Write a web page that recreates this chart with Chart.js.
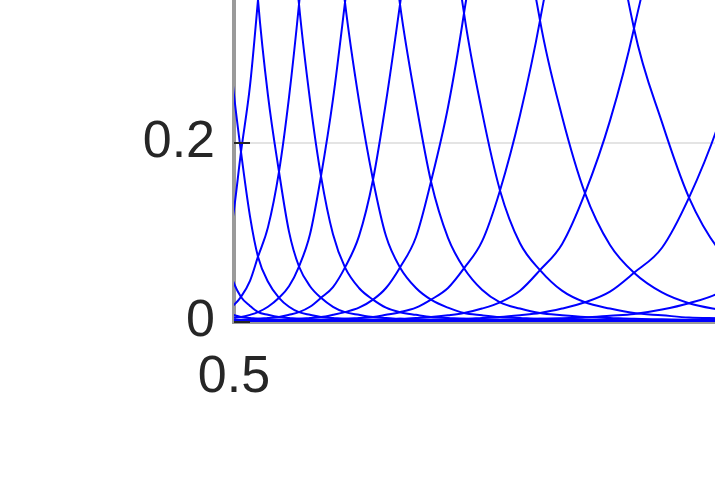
<!DOCTYPE html>
<html>
<head>
<meta charset="utf-8">
<script src="https://cdn.jsdelivr.net/npm/chart.js@4/dist/chart.umd.min.js"></script>
<style>
  html, body { margin: 0; padding: 0; background: #fff; width: 715px; height: 479px; overflow: hidden; }
  #wrap { position: relative; width: 715px; height: 479px; overflow: hidden; }
  #myChart { position: absolute; left: 0; top: -573px; }
</style>
</head>
<body>
<div id="wrap"><canvas id="myChart" width="954" height="1052"></canvas></div>
<script>
// x positions shared by all curves: peak centres, crossings, and readings half way between
const xPos = [0.420, 0.425, 0.430, 0.435, 0.440, 0.446, 0.451, 0.457, 0.463, 0.470, 0.477, 0.484, 0.491, 0.499,
              0.507, 0.516, 0.524, 0.534, 0.545, 0.555, 0.565, 0.576, 0.587, 0.599, 0.611, 0.625, 0.639, 0.652,
              0.666, 0.682, 0.697, 0.714, 0.730, 0.748, 0.766, 0.786, 0.806, 0.828, 0.851, 0.876, 0.900, 0.928,
              0.955, 0.984, 1.012, 1.044, 1.077, 1.111, 1.145, 1.184, 1.222, 1.262, 1.303]

// one array per curve (the peaks are above the visible area)
const curve1 = [0.36, 0.49, 0.8, 0.49, 0.36, 0.269, 0.2, 0.124, 0.075, 0.047, 0.028, 0.018, 0.011, 0.008,
                0.0055, 0.0045, 0.0035, 0.003, 0.0025, 0.0022, 0.002, 0.0018, 0.0017, 0.0016, 0.0015, 0.0015, 0.0015, 0.0015,
                0.0015, 0.0013, 0.0012, 0.0012, 0.0012, 0.0012, 0.0012, 0.0012, 0.0012, 0.0011, 0.001, 0.001, 0.001, 0.001,
                0.001, 0.001, 0.001, 0.001, 0.001, 0.001, 0.001, 0.001, 0.001, 0.001, 0.001]
const curve2 = [0.075, 0.124, 0.2, 0.269, 0.36, 0.49, 0.8, 0.49, 0.36, 0.264, 0.19, 0.118, 0.074, 0.046,
                0.028, 0.018, 0.011, 0.008, 0.0055, 0.0045, 0.0035, 0.003, 0.0025, 0.0022, 0.002, 0.0018, 0.0017, 0.0016,
                0.0015, 0.0015, 0.0015, 0.0015, 0.0015, 0.0013, 0.0012, 0.0012, 0.0012, 0.0012, 0.0012, 0.0012, 0.0012, 0.0011,
                0.001, 0.001, 0.001, 0.001, 0.001, 0.001, 0.001, 0.001, 0.001, 0.001, 0.001]
const curve3 = [0.011, 0.018, 0.028, 0.047, 0.075, 0.124, 0.2, 0.269, 0.36, 0.49, 0.8, 0.49, 0.36, 0.264,
                0.19, 0.118, 0.073, 0.045, 0.027, 0.017, 0.011, 0.008, 0.0055, 0.0045, 0.0035, 0.003, 0.0025, 0.0022,
                0.002, 0.0018, 0.0017, 0.0016, 0.0015, 0.0015, 0.0015, 0.0015, 0.0015, 0.0013, 0.0012, 0.0012, 0.0012, 0.0012,
                0.0012, 0.0012, 0.0012, 0.0011, 0.001, 0.001, 0.001, 0.001, 0.001, 0.001, 0.001]
const curve4 = [0.0035, 0.0045, 0.0055, 0.008, 0.011, 0.018, 0.028, 0.047, 0.075, 0.119, 0.19, 0.264, 0.36, 0.49,
                0.8, 0.49, 0.36, 0.253, 0.168, 0.101, 0.062, 0.04, 0.027, 0.017, 0.011, 0.008, 0.0055, 0.0045,
                0.0035, 0.003, 0.0025, 0.0022, 0.002, 0.0018, 0.0017, 0.0016, 0.0015, 0.0015, 0.0015, 0.0015, 0.0015, 0.0013,
                0.0012, 0.0012, 0.0012, 0.0012, 0.0012, 0.0012, 0.0012, 0.0011, 0.001, 0.001, 0.001]
const curve5 = [0.002, 0.0022, 0.0025, 0.003, 0.0035, 0.0045, 0.0055, 0.008, 0.011, 0.018, 0.028, 0.046, 0.074, 0.118,
                0.19, 0.264, 0.36, 0.49, 0.8, 0.49, 0.355, 0.248, 0.163, 0.098, 0.061, 0.038, 0.025, 0.016,
                0.011, 0.008, 0.0055, 0.0045, 0.0035, 0.003, 0.0025, 0.0022, 0.002, 0.0018, 0.0017, 0.0016, 0.0015, 0.0015,
                0.0015, 0.0015, 0.0015, 0.0013, 0.0012, 0.0012, 0.0012, 0.0012, 0.0012, 0.0012, 0.0012]
const curve6 = [0.0015, 0.0016, 0.0017, 0.0018, 0.002, 0.0022, 0.0025, 0.003, 0.0035, 0.0045, 0.0055, 0.008, 0.011, 0.018,
                0.028, 0.046, 0.073, 0.106, 0.168, 0.251, 0.355, 0.49, 0.8, 0.49, 0.357, 0.247, 0.159, 0.096,
                0.061, 0.038, 0.025, 0.016, 0.01, 0.0075, 0.0055, 0.0045, 0.0035, 0.003, 0.0025, 0.0022, 0.002, 0.0018,
                0.0017, 0.0016, 0.0015, 0.0015, 0.0015, 0.0015, 0.0015, 0.0013, 0.0012, 0.0012, 0.0012]
const curve7 = [0.0015, 0.0015, 0.0015, 0.0015, 0.0015, 0.0016, 0.0017, 0.0018, 0.002, 0.0022, 0.0025, 0.003, 0.0035, 0.0045,
                0.0055, 0.008, 0.011, 0.017, 0.027, 0.04, 0.062, 0.098, 0.163, 0.249, 0.357, 0.49, 0.8, 0.49,
                0.355, 0.245, 0.157, 0.094, 0.06, 0.036, 0.022, 0.015, 0.01, 0.0075, 0.0055, 0.0045, 0.0035, 0.003,
                0.0025, 0.0022, 0.002, 0.0018, 0.0017, 0.0016, 0.0015, 0.0015, 0.0015, 0.0015, 0.0015]
const curve8 = [0.0012, 0.0012, 0.0012, 0.0013, 0.0015, 0.0015, 0.0015, 0.0015, 0.0015, 0.0016, 0.0017, 0.0018, 0.002, 0.0022,
                0.0025, 0.003, 0.0035, 0.0045, 0.0055, 0.008, 0.011, 0.017, 0.027, 0.039, 0.061, 0.096, 0.159, 0.246,
                0.355, 0.49, 0.8, 0.49, 0.345, 0.235, 0.147, 0.088, 0.058, 0.035, 0.022, 0.015, 0.01, 0.0075,
                0.005, 0.0042, 0.0035, 0.003, 0.0025, 0.0022, 0.002, 0.0018, 0.0017, 0.0016, 0.0015]
const curve9 = [0.0012, 0.0012, 0.0012, 0.0012, 0.0012, 0.0012, 0.0012, 0.0013, 0.0015, 0.0015, 0.0015, 0.0015, 0.0015, 0.0016,
                0.0017, 0.0018, 0.002, 0.0022, 0.0025, 0.003, 0.0035, 0.0045, 0.0055, 0.008, 0.011, 0.016, 0.025, 0.038,
                0.061, 0.095, 0.157, 0.24, 0.345, 0.49, 0.8, 0.49, 0.337, 0.23, 0.144, 0.086, 0.055, 0.033,
                0.021, 0.014, 0.009, 0.007, 0.005, 0.0042, 0.0035, 0.003, 0.0025, 0.0022, 0.002]
const curve10 = [0.001, 0.001, 0.001, 0.0011, 0.0012, 0.0012, 0.0012, 0.0012, 0.0012, 0.0012, 0.0012, 0.0013, 0.0015, 0.0015,
                 0.0015, 0.0015, 0.0015, 0.0016, 0.0017, 0.0018, 0.002, 0.0022, 0.0025, 0.003, 0.0035, 0.0045, 0.0055, 0.008,
                 0.011, 0.016, 0.025, 0.038, 0.06, 0.09, 0.147, 0.231, 0.337, 0.49, 0.8, 0.49, 0.328, 0.223,
                 0.139, 0.082, 0.053, 0.032, 0.02, 0.013, 0.009, 0.007, 0.005, 0.0042, 0.0035]
const curve11 = [0.001, 0.001, 0.001, 0.001, 0.001, 0.001, 0.001, 0.0011, 0.0012, 0.0012, 0.0012, 0.0012, 0.0012, 0.0012,
                 0.0012, 0.0013, 0.0015, 0.0015, 0.0015, 0.0015, 0.0015, 0.0016, 0.0017, 0.0018, 0.002, 0.0022, 0.0025, 0.003,
                 0.0035, 0.0045, 0.0055, 0.0075, 0.01, 0.015, 0.022, 0.035, 0.058, 0.087, 0.144, 0.225, 0.328, 0.49,
                 0.8, 0.49, 0.32, 0.216, 0.134, 0.079, 0.051, 0.031, 0.02, 0.013, 0.009]
const curve12 = [0.001, 0.001, 0.001, 0.001, 0.001, 0.001, 0.001, 0.001, 0.001, 0.001, 0.001, 0.0011, 0.0012, 0.0012,
                 0.0012, 0.0012, 0.0012, 0.0012, 0.0012, 0.0013, 0.0015, 0.0015, 0.0015, 0.0015, 0.0015, 0.0016, 0.0017, 0.0018,
                 0.002, 0.0022, 0.0025, 0.003, 0.0035, 0.0045, 0.0055, 0.0075, 0.01, 0.015, 0.022, 0.034, 0.055, 0.083,
                 0.139, 0.219, 0.32, 0.49, 0.8, 0.49, 0.312, 0.21, 0.13, 0.076, 0.05]
const curve13 = [0.001, 0.001, 0.001, 0.001, 0.001, 0.001, 0.001, 0.001, 0.001, 0.001, 0.001, 0.001, 0.001, 0.001,
                 0.001, 0.0011, 0.0012, 0.0012, 0.0012, 0.0012, 0.0012, 0.0012, 0.0012, 0.0013, 0.0015, 0.0015, 0.0015, 0.0015,
                 0.0015, 0.0016, 0.0017, 0.0018, 0.002, 0.0022, 0.0025, 0.003, 0.0035, 0.0042, 0.005, 0.007, 0.009, 0.014,
                 0.021, 0.032, 0.053, 0.08, 0.134, 0.212, 0.312, 0.49, 0.8, 0.49, 0.305]

const xTicks = [0.5]
const yTicks = [0, 0.2]

const curves = [curve1, curve2, curve3, curve4, curve5, curve6, curve7, curve8, curve9, curve10, curve11, curve12, curve13]

// MATLAB style tick marks drawn inside the axes
const insideTicks = {
    id: 'insideTicks',
    afterDatasetsDraw(chart) {
        const {ctx, chartArea, scales} = chart
        ctx.save()
        ctx.strokeStyle = '#262626'
        ctx.lineWidth = 2
        for (let t of scales.y.ticks) {
            const y = scales.y.getPixelForValue(t.value)
            ctx.beginPath()
            ctx.moveTo(chartArea.left, y)
            ctx.lineTo(chartArea.left + 16, y)
            ctx.stroke()
        }
        ctx.restore()
    }
}

const font = {family: '"Liberation Sans", Arial, Helvetica, sans-serif', size: 52}
const canvas = document.getElementById('myChart')

const chart = new Chart(canvas, {
    type: 'line',
    data: {
        datasets: curves.map(c => ({
            data: xPos.map((x, i) => ({x: x, y: c[i]})),
            borderColor: '#0000ff',
            borderWidth: 2,
            pointRadius: 0,
            fill: false,
            cubicInterpolationMode: 'monotone'
        }))
    },
    options: {
        responsive: false,
        animation: false,
        layout: {padding: {left: 0, top: 0, right: 20, bottom: 0}},
        plugins: {legend: {display: false}, tooltip: {enabled: false}},
        scales: {
            x: {
                type: 'linear',
                min: 0.5,
                max: 1.2,
                afterBuildTicks: axis => { axis.ticks = xTicks.map(v => ({value: v})) },
                afterFit: s => { s.height = 157 },
                grid: {display: false, drawTicks: false},
                border: {display: true, color: '#9a9a9a', width: 4},
                ticks: {color: '#262626', font: font, padding: 24, maxRotation: 0, autoSkip: false}
            },
            y: {
                min: 0,
                max: 1,
                afterBuildTicks: axis => { axis.ticks = yTicks.map(v => ({value: v})) },
                afterFit: s => { s.width = 234 },
                grid: {color: '#e4e4e4', lineWidth: 2, drawTicks: false},
                border: {display: true, color: '#9a9a9a', width: 4},
                ticks: {color: '#262626', font: font, padding: 19}
            }
        }
    },
    plugins: [insideTicks]
})

// fit the axis ranges so 0.2 spans 179px and 0.1 spans 100px, then place the plot
const area = chart.chartArea
chart.options.scales.y.max = (area.bottom - area.top) / 895
chart.options.scales.x.max = 0.5 + (area.right - area.left) / 1000
chart.update()
canvas.style.top = (322 - chart.chartArea.bottom) + 'px'
canvas.style.left = (234 - chart.chartArea.left) + 'px'
</script>
</body>
</html>
